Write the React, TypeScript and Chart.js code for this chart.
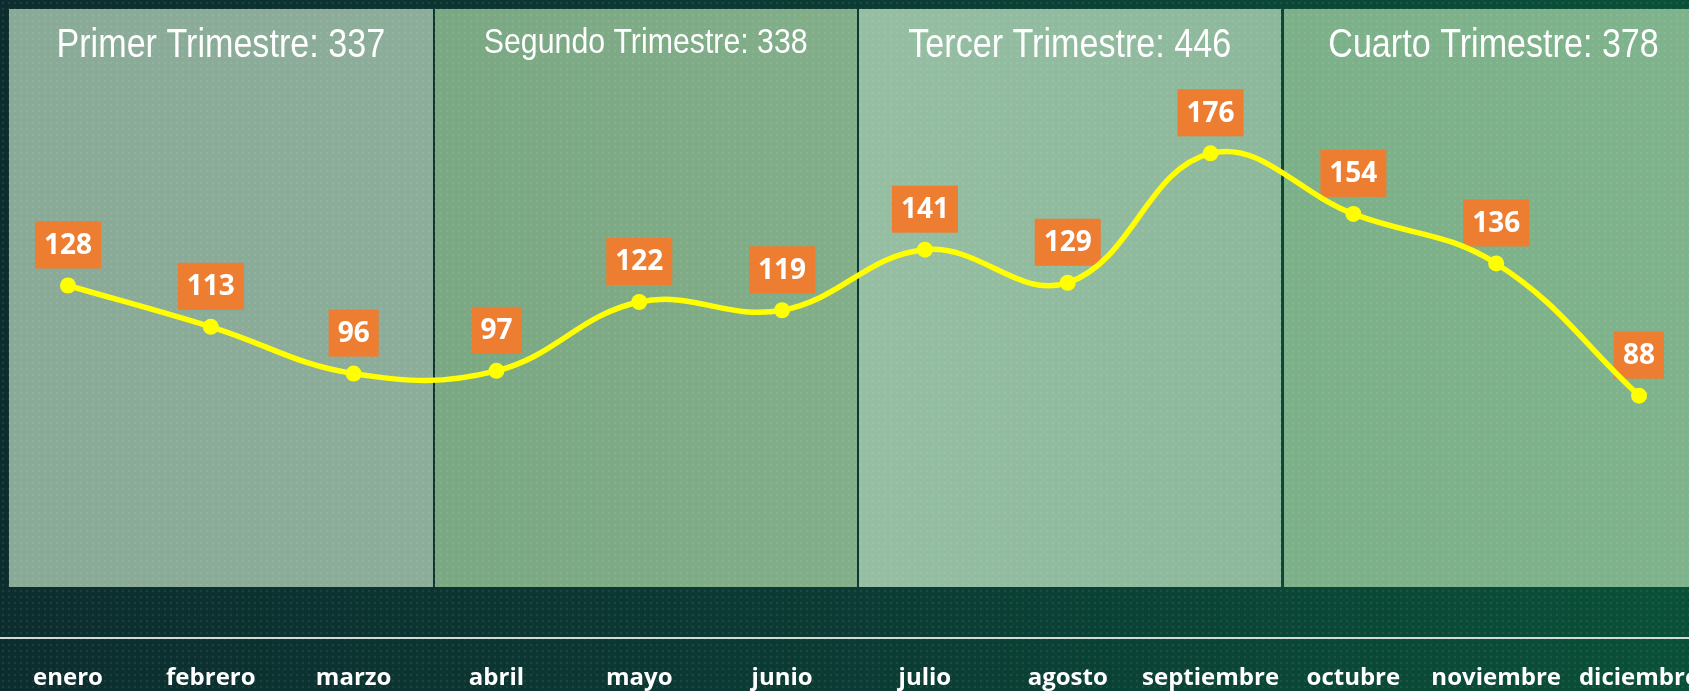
import React, { useEffect, useRef } from 'react';
import { Chart, registerables } from 'chart.js';

Chart.register(...registerables);

// ---- data ----
const months = ['enero', 'febrero', 'marzo', 'abril', 'mayo', 'junio', 'julio', 'agosto', 'septiembre', 'octubre', 'noviembre', 'diciembre'];
const values = [128, 113, 96, 97, 122, 119, 141, 129, 176, 154, 136, 88];
const quarterTitles = ['Primer Trimestre: 337', 'Segundo Trimestre: 338', 'Tercer Trimestre: 446', 'Cuarto Trimestre: 378'];

// ---- styling ----
const quarterFontSizes = [40, 35.5, 40, 40];
const quarterTitleOffsets = [37, 34, 37, 37];
const panelStarts = [-0.413, 2.568, 5.537, 8.513];
const panelEnds = [2.553, 5.522, 8.491, 11.45];
const panelColorsLeft = ['#89aa96', '#7aa883', '#95bea2', '#7cb089'];
const panelColorsRight = ['#8cad99', '#82ae89', '#8db89b', '#7fb38c'];
const panelBottomValue = 18.5;

const backgroundPlugin = {
  id: 'bgPanels',
  beforeDraw(chart: any) {
    const { ctx, width, height, chartArea, scales } = chart;
    const x = scales.x;
    const y = scales.y;
    ctx.save();
    const g = ctx.createLinearGradient(0, 0, width, 0);
    g.addColorStop(0, '#0c2d2e');
    g.addColorStop(0.5, '#0b3b34');
    g.addColorStop(1, '#0a5038');
    ctx.fillStyle = g;
    ctx.fillRect(0, 0, width, height);

    const bottom = y.getPixelForValue(panelBottomValue);
    for (let i = 0; i < panelStarts.length; i++) {
      const l = Math.round(x.getPixelForValue(panelStarts[i]));
      const r = Math.round(x.getPixelForValue(panelEnds[i]));
      const pg = ctx.createLinearGradient(l, 0, r, 0);
      pg.addColorStop(0, panelColorsLeft[i]);
      pg.addColorStop(1, panelColorsRight[i]);
      ctx.fillStyle = pg;
      ctx.fillRect(l, chartArea.top, r - l, Math.round(bottom - chartArea.top));
    }

    // subtle dot texture
    const pc = document.createElement('canvas');
    pc.width = 6;
    pc.height = 6;
    const pctx = pc.getContext('2d')!;
    pctx.fillStyle = 'rgba(255,255,255,0.07)';
    pctx.beginPath();
    pctx.arc(3, 3, 1.3, 0, Math.PI * 2);
    pctx.fill();
    const pat = ctx.createPattern(pc, 'repeat');
    if (pat) {
      ctx.fillStyle = pat;
      ctx.fillRect(0, 0, width, height);
    }

    // baseline
    const y0 = y.getPixelForValue(0);
    ctx.fillStyle = '#d4dbd7';
    ctx.fillRect(0, Math.round(y0 - 1), width, 2);

    // quarter titles
    ctx.fillStyle = '#ffffff';
    ctx.textAlign = 'center';
    ctx.textBaseline = 'middle';
    for (let i = 0; i < quarterTitles.length; i++) {
      const l = x.getPixelForValue(panelStarts[i]);
      const r = x.getPixelForValue(panelEnds[i]);
      const cx = (l + r) / 2;
      ctx.save();
      ctx.translate(cx, chartArea.top + quarterTitleOffsets[i]);
      ctx.scale(0.853, 1);
      ctx.font = `${quarterFontSizes[i]}px "Liberation Sans", Arial, sans-serif`;
      ctx.fillText(quarterTitles[i], 0, 0);
      ctx.restore();
    }
    ctx.restore();
  },
  beforeDatasetsDraw(chart: any) {
    const { ctx } = chart;
    const meta = chart.getDatasetMeta(0);
    const data = chart.data.datasets[0].data;
    ctx.save();
    ctx.font = 'bold 28px "Open Sans", sans-serif';
    ctx.textAlign = 'center';
    ctx.textBaseline = 'middle';
    meta.data.forEach((pt: any, i: number) => {
      const text = String(data[i]);
      const tw = ctx.measureText(text).width;
      const w = tw + 18;
      const h = 47;
      const bottom = pt.y - 17;
      ctx.fillStyle = '#ed7d31';
      ctx.fillRect(pt.x - w / 2, bottom - h, w, h);
      ctx.fillStyle = '#ffffff';
      ctx.fillText(text, pt.x, bottom - h / 2 + 1);
    });
    ctx.restore();
  },
};

export default function App() {
  const ref = useRef<HTMLCanvasElement | null>(null);
  useEffect(() => {
    if (!ref.current) return;
    const chart = new Chart(ref.current, {
      type: 'line',
      data: {
        labels: months,
        datasets: [
          {
            data: values,
            borderColor: '#ffff00',
            backgroundColor: '#ffff00',
            borderWidth: 5.5,
            tension: 0.4,
            pointRadius: 8,
            pointBorderWidth: 0,
            pointBackgroundColor: '#ffff00',
            clip: false,
          },
        ],
      },
      options: {
        responsive: false,
        animation: false,
        layout: { padding: { left: 68, right: 50, top: 9, bottom: 0 } },
        plugins: { legend: { display: false }, tooltip: { enabled: false } },
        scales: {
          x: {
            grid: { display: false, drawTicks: false },
            border: { display: false },
            ticks: {
              color: '#ffffff',
              font: { family: '"Open Sans", sans-serif', weight: 'bold', size: 24 },
              padding: 26,
              autoSkip: false,
              maxRotation: 0,
            },
            afterFit: (s: any) => {
              s.height = 53;
              s.paddingLeft = 0;
              s.paddingRight = 0;
            },
          },
          y: {
            display: false,
            min: 0,
            max: 228.4,
          },
        },
      },
      plugins: [backgroundPlugin],
    });
    return () => chart.destroy();
  }, []);
  return (
    <div style={{ position: 'fixed', left: 0, top: 0, width: 1689, height: 691 }}>
      <canvas ref={ref} width={1689} height={691} style={{ display: 'block' }} />
    </div>
  );
}
